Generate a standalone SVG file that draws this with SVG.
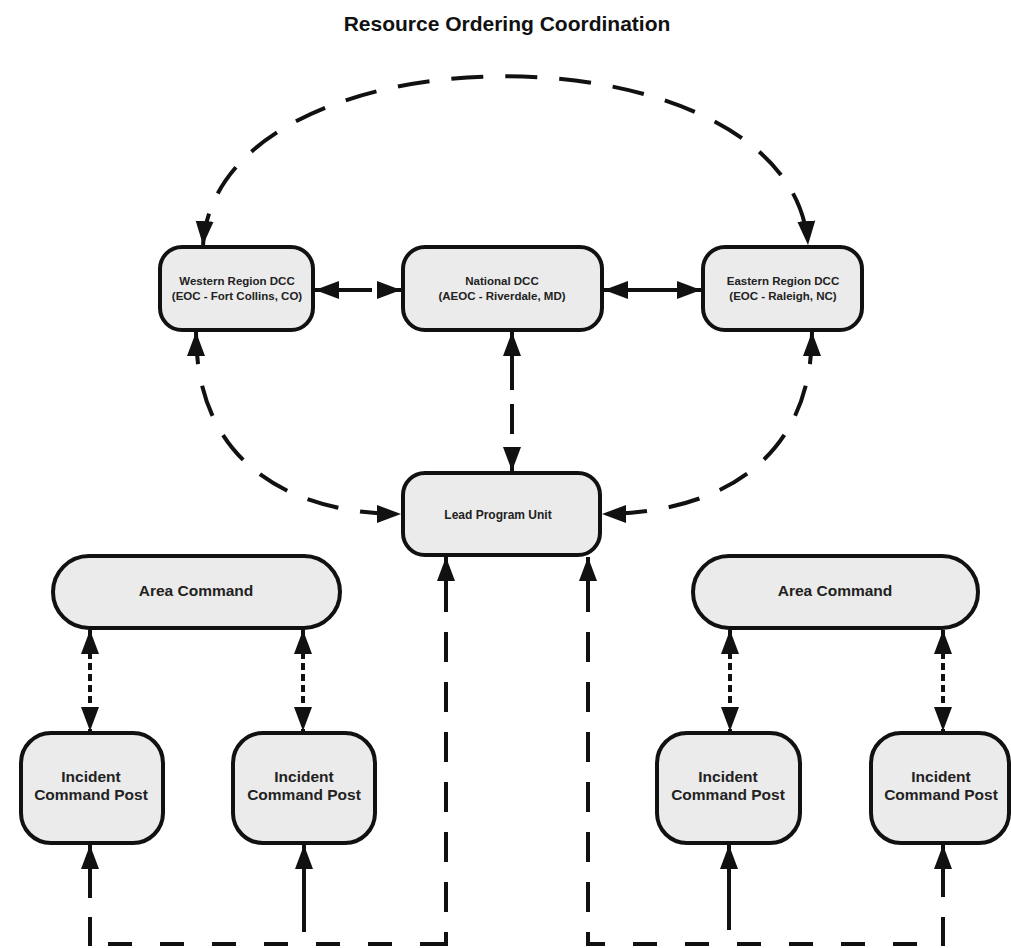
<svg xmlns="http://www.w3.org/2000/svg" width="1011" height="948" viewBox="0 0 1011 948">
<defs>
<marker id="ah" markerUnits="userSpaceOnUse" markerWidth="26" markerHeight="20" refX="24" refY="9" orient="auto-start-reverse" viewBox="0 0 26 18">
<path d="M0,0 L24,9 L0,18 z" fill="#111"/>
</marker>
<style>
.box{fill:#ebebeb;stroke:#111;stroke-width:4}
.t{font-family:"Liberation Sans",Arial,sans-serif;font-weight:bold;font-size:15.5px;fill:#222;text-anchor:middle}
.s{font-size:11.5px}
.title{font-family:"Liberation Sans",Arial,sans-serif;font-weight:bold;font-size:21px;fill:#111;text-anchor:middle}
.c{fill:none;stroke:#111;stroke-width:4}
.dash{stroke-dasharray:32 22}
.vd{stroke-dasharray:30 20}
.hd{stroke-dasharray:24 28}
.dot{stroke-dasharray:7 4}
</style>
</defs>
<rect width="1011" height="948" fill="#fff"/>
<text class="title" x="507" y="31">Resource Ordering Coordination</text>

<g id="connectors">
<path class="c dash" d="M203,245 C218,20 792,20 808,245" marker-start="url(#ah)" marker-end="url(#ah)"/>
<path class="c" d="M315,290 L401,290" stroke-dasharray="57 7" marker-start="url(#ah)" marker-end="url(#ah)"/>
<path class="c" d="M604,290 L701,290" marker-start="url(#ah)" marker-end="url(#ah)"/>
<path class="c" d="M512,332 L512,471" stroke-dasharray="58 14 30 14" marker-start="url(#ah)" marker-end="url(#ah)"/>
<path class="c dash" d="M196,332 C196,470 300,514 401,514" marker-start="url(#ah)" marker-end="url(#ah)"/>
<path class="c dash" d="M812,332 C812,470 705,514 602,514" marker-start="url(#ah)" marker-end="url(#ah)"/>
<path class="c dot" d="M90,630 L90,731" marker-start="url(#ah)" marker-end="url(#ah)"/>
<path class="c dot" d="M303,630 L303,731" marker-start="url(#ah)" marker-end="url(#ah)"/>
<path class="c dot" d="M730,630 L730,731" marker-start="url(#ah)" marker-end="url(#ah)"/>
<path class="c dot" d="M943,630 L943,731" marker-start="url(#ah)" marker-end="url(#ah)"/>
<!-- left ordering loop -->
<path class="c" d="M90,898 L90,845" marker-end="url(#ah)"/>
<path class="c" d="M90,917 L90,946"/>
<path class="c hd" d="M108,944 L446,944"/>
<path class="c vd" d="M446,632 L446,946"/>
<path class="c" d="M446,612 L446,557" marker-end="url(#ah)"/>
<path class="c" d="M304,932 L304,845" marker-end="url(#ah)"/>
<!-- right ordering loop -->
<path class="c" d="M943,897 L943,845" marker-end="url(#ah)"/>
<path class="c" d="M943,917 L943,946"/>
<path class="c hd" d="M917,944 L588,944"/>
<path class="c vd" d="M588,632 L588,946"/>
<path class="c" d="M588,612 L588,557" marker-end="url(#ah)"/>
<path class="c" d="M729,930 L729,845" marker-end="url(#ah)"/>
</g>

<g id="western">
<rect class="box" x="160" y="247" width="153" height="83" rx="22"/>
<text class="t s" x="237" y="285">Western Region DCC</text>
<text class="t s" x="237" y="300">(EOC - Fort Collins, CO)</text>
</g>
<g id="national">
<rect class="box" x="403" y="247" width="199" height="83" rx="22"/>
<text class="t s" x="502" y="285">National DCC</text>
<text class="t s" x="502" y="300">(AEOC - Riverdale, MD)</text>
</g>
<g id="eastern">
<rect class="box" x="703" y="247" width="159" height="83" rx="22"/>
<text class="t s" x="783" y="285">Eastern Region DCC</text>
<text class="t s" x="783" y="300">(EOC - Raleigh, NC)</text>
</g>
<g id="lead">
<rect class="box" x="403" y="473" width="197" height="82" rx="22"/>
<text class="t" x="498" y="519" style="font-size:12px">Lead Program Unit</text>
</g>
<g id="area-left">
<rect class="box" x="53" y="556" width="287" height="72" rx="36"/>
<text class="t" x="196" y="596">Area Command</text>
</g>
<g id="area-right">
<rect class="box" x="693" y="556" width="285" height="72" rx="36"/>
<text class="t" x="835" y="596">Area Command</text>
</g>
<g id="icp-1">
<rect class="box" x="21" y="733" width="142" height="110" rx="30"/>
<text class="t" x="91" y="782">Incident</text>
<text class="t" x="91" y="800">Command Post</text>
</g>
<g id="icp-2">
<rect class="box" x="233" y="733" width="142" height="110" rx="30"/>
<text class="t" x="304" y="782">Incident</text>
<text class="t" x="304" y="800">Command Post</text>
</g>
<g id="icp-3">
<rect class="box" x="657" y="733" width="143" height="110" rx="30"/>
<text class="t" x="728" y="782">Incident</text>
<text class="t" x="728" y="800">Command Post</text>
</g>
<g id="icp-4">
<rect class="box" x="871" y="733" width="138" height="110" rx="30"/>
<text class="t" x="941" y="782">Incident</text>
<text class="t" x="941" y="800">Command Post</text>
</g>
</svg>
